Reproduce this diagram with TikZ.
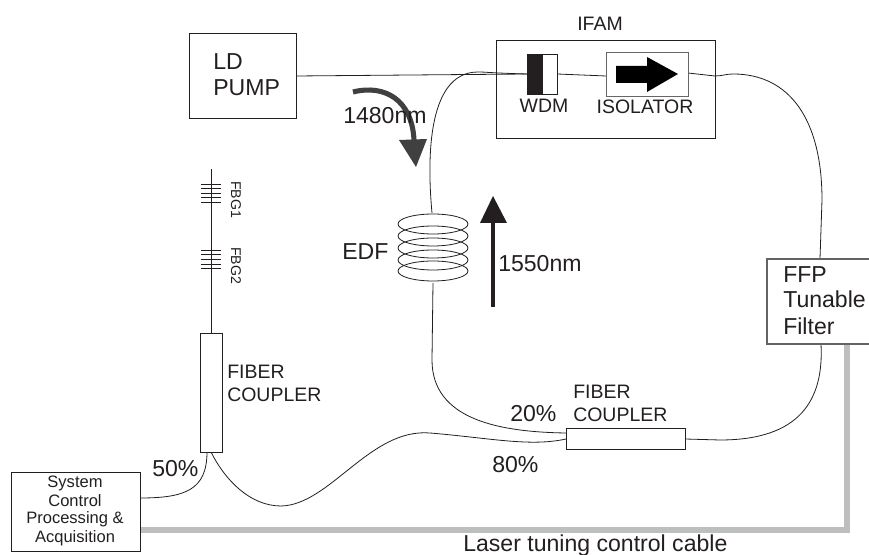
\documentclass[tikz,border=0pt]{standalone}
\usepackage{fontspec}
\setmainfont{Liberation Sans}
\definecolor{ink}{HTML}{231F20}
\definecolor{cable}{HTML}{BCBEC0}
\definecolor{pumpar}{HTML}{404040}
\tikzset{
 box/.style={draw=ink,line width=0.8pt,fill=white,inner sep=0},
 fiber/.style={draw=ink,line width=0.6pt},
 lab/.style={text=ink,font=\fontsize{17.3}{19}\selectfont,inner sep=0,align=left},
 slab/.style={text=ink,font=\fontsize{14.6}{16}\selectfont,inner sep=0,align=left},
 tlab/.style={text=ink,font=\fontsize{12.4}{14}\selectfont,inner sep=0},
 glab/.style={text=ink,font=\fontsize{10.6}{12}\selectfont,inner sep=0,rotate=-90},
}
\begin{document}
\begin{tikzpicture}[x=0.75pt,y=-0.75pt]
\useasboundingbox (0,0) rectangle (869,555);
\fill[white] (0,0) rectangle (869,555);
% fibres
\coordinate (edfT) at (432,213);
\coordinate (edfB) at (433,283);
\draw[fiber] (296,76) -- (527,74);
\draw[fiber] (edfT) .. controls (428,170) and (424,72) .. (478,72) .. controls (487,72) and (490,73) .. (527,74);
\draw[fiber] (557,74) -- (606,76);
\draw[fiber] (688,73) -- (715,76) .. controls (722,76) and (726,74) .. (733,74) .. controls (790,74) and (822,120) .. (822,200) -- (820,259);
\draw[fiber] (821,344) .. controls (824,400) and (800,440) .. (720,440) -- (685,439);
\draw[fiber] (566,433) .. controls (500,432) and (432,420) .. (432,360) -- (edfB);
\draw[fiber] (566,439) .. controls (530,447) and (490,438) .. (430,433) .. controls (370,428) and (330,505) .. (281,506) .. controls (250,506) and (225,480) .. (211,452);
\draw[fiber] (140,498) .. controls (185,498) and (207,490) .. (207,452);
\draw[fiber] (211,169) -- (211,333);
\foreach \y in {184,188,193,197,202,250,254,259,264,268}
  \draw[ink,line width=0.6pt] (201,\y) -- (221,\y);
% cable
\draw[cable,line width=5pt] (140,530) -- (847,530) -- (847,344);
% boxes
\node[box,minimum width=80.25pt,minimum height=63.75pt,anchor=north west] (pump) at (189,33) {};
\node[box,fill=none,minimum width=164pt,minimum height=73.5pt,anchor=north west] (ifam) at (496,40) {};
\node[box,minimum width=22.5pt,minimum height=30pt,anchor=north west] (wdm) at (527,54) {};
\fill[ink] (527,54) rectangle (543,94);
\node[box,draw=black!60,minimum width=61.5pt,minimum height=33pt,anchor=north west] (iso) at (606,52) {};
\fill[black] (616,66) -- (647,66) -- (647,57) -- (678,74) -- (647,92) -- (647,83) -- (616,83) -- cycle;
\node[box,minimum width=16.5pt,minimum height=89pt,anchor=north west] (c1) at (200,333) {};
\node[box,minimum width=89pt,minimum height=16pt,anchor=north west] (c2) at (566,428) {};
\node[box,minimum width=97pt,minimum height=59pt,anchor=north west] (sys) at (11,472) {};
\draw[ink!70,line width=0.8pt,fill=white] (870,259) -- (767,259) -- (767,344) -- (870,344);
% coil
\foreach \y in {224,236,248,260,271}
  \draw[ink,line width=0.6pt] (433,\y) ellipse [x radius=35,y radius=10];
% arrows
\draw[ink,line width=3.4pt] (493,307) -- (493,222);
\fill[ink] (480,223) -- (493,196) -- (507,223) -- cycle;
\draw[pumpar,line width=3.8pt] (353,92) .. controls (385,84) and (412,100) .. (414,140);
\fill[pumpar] (399,140) -- (427,139) -- (416,167) -- cycle;
% labels
\node[lab,anchor=base west] (t1) at (213,70) {LD};
\node[lab,anchor=base west] (t2) at (213,96) {PUMP};
\node[slab,anchor=base] (t3) at (600,31) {IFAM};
\node[slab,anchor=base] (t4) at (544,113) {WDM};
\node[slab,anchor=base] (t5) at (645,114) {ISOLATOR};
\node[lab,anchor=base west] (t6) at (343,124) {1480nm};
\node[lab,anchor=base west] (t7) at (342,260) {EDF};
\node[lab,anchor=base west] (t8) at (498,272) {1550nm};
\node[lab,anchor=base west] (t9) at (783,283) {FFP};
\node[lab,anchor=base west] (t10) at (783,308) {Tunable};
\node[lab,anchor=base west] (t11) at (783,335) {Filter};
\node[glab,anchor=base west] (t12) at (231,181) {FBG1};
\node[glab,anchor=base west] (t13) at (231,247) {FBG2};
\node[slab,anchor=base west] (t14) at (227,379) {FIBER};
\node[slab,anchor=base west] (t15) at (227,402) {COUPLER};
\node[slab,anchor=base west] (t16) at (573,399) {FIBER};
\node[slab,anchor=base west] (t17) at (573,422) {COUPLER};
\node[lab,anchor=base west] (t18) at (510,422) {20\%};
\node[lab,anchor=base west] (t19) at (492,473) {80\%};
\node[lab,anchor=base west] (t20) at (152,477) {50\%};
\node[lab,anchor=base west] (t21) at (463,552) {Laser tuning control cable};
\node[tlab,anchor=base] (t22) at (75,488) {System};
\node[tlab,anchor=base] (t23) at (75,507) {Control};
\node[tlab,anchor=base] (t24) at (75,524) {Processing \&};
\node[tlab,anchor=base] (t25) at (75,543) {Acquisition};
\end{tikzpicture}
\end{document}
